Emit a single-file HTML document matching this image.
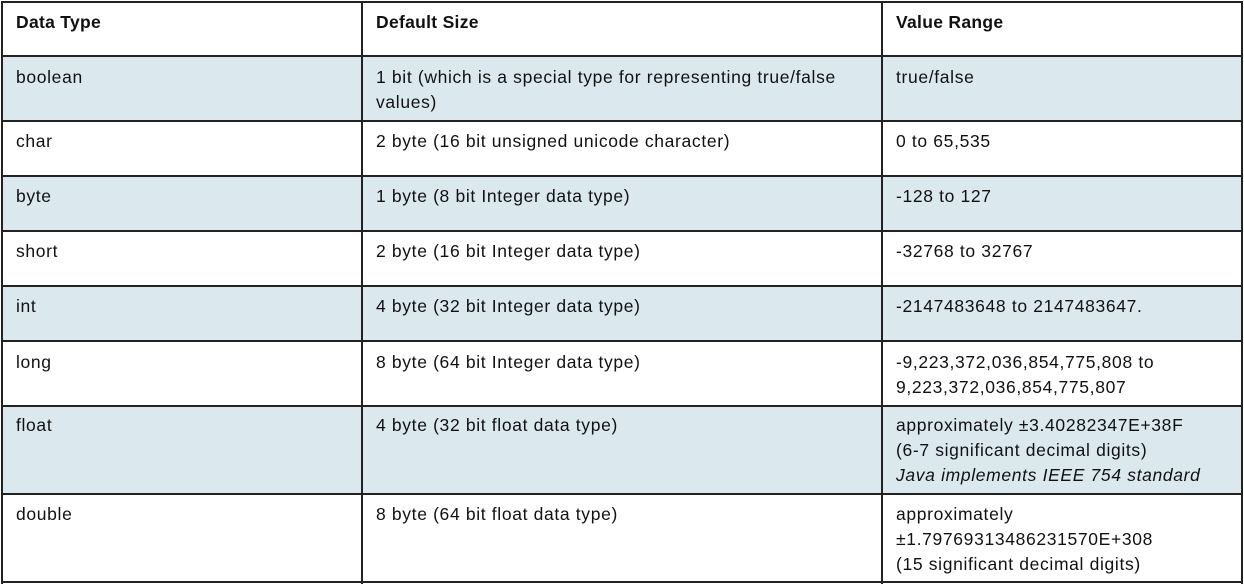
<!DOCTYPE html>
<html><head><meta charset="utf-8"><style>
body{margin:0;width:1244px;height:584px;background:#fff;position:relative;overflow:hidden;font-family:"Liberation Sans",sans-serif;font-size:17.5px;letter-spacing:0.65px;color:#111}
.c{position:absolute;box-sizing:border-box;padding:9px 0 0 14px;line-height:25px;white-space:nowrap}
.h{position:absolute;left:1px;width:1242px;height:2px;background:#222}
.v{position:absolute;top:1px;height:583px;width:2px;background:#222}
.bg{position:absolute;left:1px;width:1242px;background:#dbe9ef}
b{font-weight:bold;letter-spacing:0.3px}
</style></head><body>
<div class="bg" style="top:56px;height:65px"></div>
<div class="bg" style="top:176px;height:55px"></div>
<div class="bg" style="top:286px;height:55px"></div>
<div class="bg" style="top:406px;height:88px"></div>
<div class="h" style="top:1px"></div>
<div class="h" style="top:55px"></div>
<div class="h" style="top:120px"></div>
<div class="h" style="top:175px"></div>
<div class="h" style="top:230px"></div>
<div class="h" style="top:285px"></div>
<div class="h" style="top:340px"></div>
<div class="h" style="top:405px"></div>
<div class="h" style="top:493px"></div>
<div class="h" style="top:581px"></div>
<div class="v" style="left:1px"></div>
<div class="v" style="left:361px"></div>
<div class="v" style="left:881px"></div>
<div class="v" style="left:1241px"></div>

<div class="c" style="left:2px;top:1px"><b>Data Type</b></div>
<div class="c" style="left:362px;top:1px"><b>Default Size</b></div>
<div class="c" style="left:882px;top:1px"><b>Value Range</b></div>

<div class="c" style="left:2px;top:56px">boolean</div>
<div class="c" style="left:362px;top:56px">1 bit (which is a special type for representing true/false<br>values)</div>
<div class="c" style="left:882px;top:56px">true/false</div>

<div class="c" style="left:2px;top:120px">char</div>
<div class="c" style="left:362px;top:120px">2 byte (16 bit unsigned unicode character)</div>
<div class="c" style="left:882px;top:120px">0 to 65,535</div>

<div class="c" style="left:2px;top:175px">byte</div>
<div class="c" style="left:362px;top:175px">1 byte (8 bit Integer data type)</div>
<div class="c" style="left:882px;top:175px">-128 to 127</div>

<div class="c" style="left:2px;top:230px">short</div>
<div class="c" style="left:362px;top:230px">2 byte (16 bit Integer data type)</div>
<div class="c" style="left:882px;top:230px">-32768 to 32767</div>

<div class="c" style="left:2px;top:285px">int</div>
<div class="c" style="left:362px;top:285px">4 byte (32 bit Integer data type)</div>
<div class="c" style="left:882px;top:285px">-2147483648 to 2147483647.</div>

<div class="c" style="left:2px;top:341px">long</div>
<div class="c" style="left:362px;top:341px">8 byte (64 bit Integer data type)</div>
<div class="c" style="left:882px;top:341px">-9,223,372,036,854,775,808 to<br>9,223,372,036,854,775,807</div>

<div class="c" style="left:2px;top:404px">float</div>
<div class="c" style="left:362px;top:404px">4 byte (32 bit float data type)</div>
<div class="c" style="left:882px;top:404px">approximately ±3.40282347E+38F<br>(6-7 significant decimal digits)<br><i>Java implements IEEE 754 standard</i></div>

<div class="c" style="left:2px;top:493px">double</div>
<div class="c" style="left:362px;top:493px">8 byte (64 bit float data type)</div>
<div class="c" style="left:882px;top:493px">approximately<br>±1.79769313486231570E+308<br>(15 significant decimal digits)</div>
</body></html>
